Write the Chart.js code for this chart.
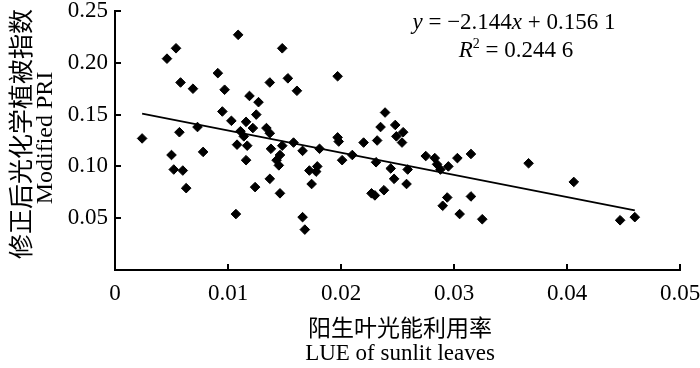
<!DOCTYPE html>
<html>
<head>
<meta charset="utf-8">
<script src="https://cdn.jsdelivr.net/npm/chart.js@4.4.0/dist/chart.umd.min.js"></script>
<style>
  html, body { margin: 0; padding: 0; background: #fff; }
  #wrap { width: 700px; height: 368px; }
</style>
</head>
<body>
<div id="wrap"><canvas id="lueChart" width="700" height="368"></canvas></div>
<script>
// LUE of sunlit leaves (x) vs modified PRI (y)
const lueSunlit = [
    0.0109, 0.0054, 0.0046, 0.0058, 0.0069, 0.0091, 0.0097, 0.0095, 0.0103, 0.0024,
    0.0057, 0.0073, 0.0050, 0.0052, 0.0060, 0.0078, 0.0063, 0.0107, 0.0111, 0.0114,
    0.0108, 0.0117, 0.0116, 0.0148, 0.0137, 0.0153, 0.0161, 0.0197, 0.0119, 0.0127,
    0.0125, 0.0116, 0.0122, 0.0134, 0.0137, 0.0138, 0.0148, 0.0158, 0.0166, 0.0181,
    0.0146, 0.0143, 0.0145, 0.0197, 0.0198, 0.0220, 0.0210, 0.0201, 0.0172, 0.0179,
    0.0178, 0.0174, 0.0137, 0.0124, 0.0146, 0.0166, 0.0168, 0.0239, 0.0235, 0.0248,
    0.0255, 0.0249, 0.0254, 0.0232, 0.0231, 0.0244, 0.0259, 0.0247, 0.0258, 0.0227,
    0.0230, 0.0238, 0.0275, 0.0283, 0.0285, 0.0288, 0.0295, 0.0303, 0.0315, 0.0294,
    0.0290, 0.0315, 0.0305, 0.0325, 0.0366, 0.0406, 0.0447, 0.0460
];
const modifiedPRI = [
    0.227, 0.214, 0.204, 0.181, 0.175, 0.190, 0.174, 0.153, 0.144, 0.127,
    0.133, 0.138, 0.111, 0.097, 0.096, 0.114, 0.079, 0.054, 0.134, 0.129,
    0.121, 0.120, 0.106, 0.214, 0.181, 0.185, 0.173, 0.187, 0.168, 0.162,
    0.150, 0.143, 0.137, 0.137, 0.132, 0.117, 0.120, 0.123, 0.115, 0.117,
    0.111, 0.106, 0.101, 0.128, 0.124, 0.123, 0.111, 0.106, 0.096, 0.100,
    0.095, 0.083, 0.088, 0.080, 0.074, 0.051, 0.039, 0.152, 0.138, 0.140,
    0.133, 0.129, 0.123, 0.125, 0.104, 0.098, 0.097, 0.088, 0.083, 0.074,
    0.072, 0.077, 0.110, 0.108, 0.102, 0.097, 0.100, 0.108, 0.112, 0.070,
    0.062, 0.071, 0.054, 0.049, 0.103, 0.085, 0.048, 0.051
];

// fitted line end points
const trendX = [0.0024, 0.0460];
const trendY = [0.1510, 0.0575];

const xTicks = [0, 0.01, 0.02, 0.03, 0.04, 0.05];
const xTickLabels = ['0', '0.01', '0.02', '0.03', '0.04', '0.05'];
const yTicks = [0, 0.05, 0.10, 0.15, 0.20, 0.25];
const yTickLabels = ['', '0.05', '0.10', '0.15', '0.20', '0.25'];

const serif = "'Liberation Serif', 'Times New Roman', serif";
const cjk = "'Noto Sans CJK SC', sans-serif";

// axis titles and the regression equation
const textPlugin = {
    id: 'figureText',
    afterDraw(chart) {
        const ctx = chart.ctx;
        ctx.save();
        ctx.fillStyle = '#000';
        ctx.textAlign = 'center';
        ctx.textBaseline = 'middle';

        ctx.font = '23px ' + cjk;
        ctx.fillText('阳生叶光能利用率', 400, 327);
        ctx.font = '23px ' + serif;
        ctx.fillText('LUE of sunlit leaves', 400, 354);

        ctx.save();
        ctx.translate(20, 134);
        ctx.rotate(-Math.PI / 2);
        ctx.font = '25px ' + cjk;
        ctx.fillText('修正后光化学植被指数', 0, 0);
        ctx.restore();
        ctx.save();
        ctx.translate(46, 138);
        ctx.rotate(-Math.PI / 2);
        ctx.font = '24px ' + serif;
        ctx.fillText('Modified PRI', 0, 0);
        ctx.restore();

        ctx.textAlign = 'left';
        ctx.textBaseline = 'alphabetic';
        const drawParts = (parts, cx, y) => {
            let total = 0;
            parts.forEach(p => {
                ctx.font = p.f;
                total += ctx.measureText(p.t).width;
            });
            let x = cx - total / 2;
            parts.forEach(p => {
                ctx.font = p.f;
                ctx.fillText(p.t, x, y + (p.dy || 0));
                x += ctx.measureText(p.t).width;
            });
        };
        const up = '23px ' + serif;
        const it = 'italic 23px ' + serif;
        drawParts([
            { t: 'y', f: it }, { t: ' = \u22122.144', f: up },
            { t: 'x', f: it }, { t: ' + 0.156 1', f: up }
        ], 514, 29);
        drawParts([
            { t: 'R', f: it }, { t: '2', f: '14px ' + serif, dy: -9 },
            { t: ' = 0.244 6', f: up }
        ], 516, 57);
        ctx.restore();
    }
};

const ctx = document.getElementById('lueChart').getContext('2d');
new Chart(ctx, {
    type: 'scatter',
    data: {
        datasets: [
            {
                label: 'Modified PRI',
                data: lueSunlit.map((x, i) => ({ x: x, y: modifiedPRI[i] })),
                pointStyle: 'rectRot',
                pointRadius: 4.8,
                backgroundColor: '#000',
                borderColor: '#000',
                borderWidth: 1
            },
            {
                label: 'Fit',
                data: trendX.map((x, i) => ({ x: x, y: trendY[i] })),
                showLine: true,
                borderColor: '#000',
                borderWidth: 1.8,
                pointRadius: 0
            }
        ]
    },
    options: {
        responsive: false,
        animation: false,
        devicePixelRatio: 1,
        layout: { padding: { top: 11, right: 20, left: 0, bottom: 0 } },
        plugins: {
            legend: { display: false },
            tooltip: { enabled: false }
        },
        scales: {
            x: {
                type: 'linear',
                position: 'bottom',
                min: 0,
                max: 0.05,
                afterBuildTicks: s => { s.ticks = xTicks.map(v => ({ value: v })); },
                afterFit: s => { s.height = 98; s.paddingLeft = 0; s.paddingRight = 0; },
                border: { color: '#000', width: 2 },
                grid: { drawOnChartArea: false, drawTicks: true, tickLength: -6, color: '#000', lineWidth: 2 },
                ticks: {
                    padding: 16,
                    color: '#000',
                    maxRotation: 0,
                    autoSkip: false,
                    font: { family: serif, size: 23 },
                    callback: (v, i) => xTickLabels[i]
                }
            },
            y: {
                type: 'linear',
                min: 0,
                max: 0.25,
                afterBuildTicks: s => { s.ticks = yTicks.map(v => ({ value: v })); },
                afterFit: s => { s.width = 115; s.paddingTop = 0; s.paddingBottom = 0; },
                border: { color: '#000', width: 2 },
                grid: { drawOnChartArea: false, drawTicks: true, tickLength: -6, color: '#000', lineWidth: 2 },
                ticks: {
                    padding: 13,
                    color: '#000',
                    autoSkip: false,
                    font: { family: serif, size: 23 },
                    callback: (v, i) => yTickLabels[i]
                }
            }
        }
    },
    plugins: [textPlugin]
});
</script>
</body>
</html>
